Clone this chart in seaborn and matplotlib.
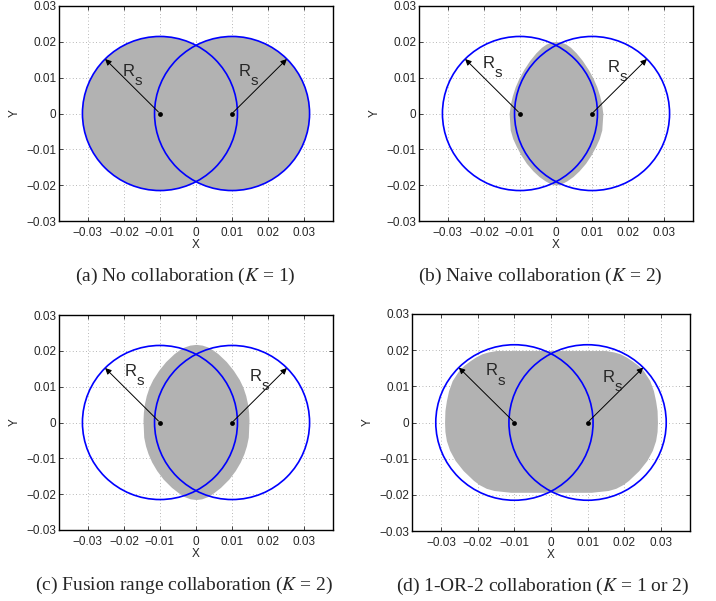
import numpy as np
import matplotlib
matplotlib.use("Agg")
import matplotlib.pyplot as plt
from matplotlib.patches import Circle
import seaborn as sns

# sensor positions and sensing radius
centers_x = [-0.01, 0.01]
centers_y = [0.0, 0.0]
radius = 0.0215
arrow_angles = [135, 45]

ticks = [-0.03, -0.02, -0.01, 0, 0.01, 0.02, 0.03]
tick_labels = ["\u22120.03", "\u22120.02", "\u22120.01", "0", "0.01", "0.02", "0.03"]

# detection region boundaries (y level, half width)
ys_b = [0.0201, 0.0199, 0.0194, 0.0185, 0.0169, 0.0148, 0.0122, 0.0098, 0.0075, 0.0050, 0.0029, 0.0,
        -0.0046, -0.0070, -0.0092, -0.0116, -0.0139, -0.0160, -0.0176, -0.0188, -0.0195, -0.0200]
hw_b = [0.0, 0.0014, 0.0027, 0.0040, 0.0056, 0.0073, 0.0090, 0.0103, 0.0113, 0.0121, 0.0126, 0.0130,
        0.0127, 0.0120, 0.0110, 0.0097, 0.0082, 0.0064, 0.0047, 0.0030, 0.0017, 0.0]

ys_c = [0.0218, 0.0216, 0.0211, 0.0203, 0.0192, 0.0170, 0.0145, 0.0120, 0.0099, 0.0075, 0.0052, 0.0028, 0.0006,
        -0.0041, -0.0065, -0.0087, -0.0110, -0.0134, -0.0158, -0.0181, -0.0196, -0.0207, -0.0213, -0.0215]
hw_c = [0.0, 0.0017, 0.0032, 0.0046, 0.0061, 0.0084, 0.0104, 0.0120, 0.0130, 0.0138, 0.0143, 0.0146, 0.0147,
        0.0145, 0.0140, 0.0133, 0.0123, 0.0109, 0.0091, 0.0068, 0.0049, 0.0032, 0.0016, 0.0]

ys_d = [0.0199, 0.0195, 0.0190, 0.0181, 0.0171, 0.0158, 0.0144, 0.0116, 0.0088, 0.0060, 0.0033, 0.0,
        -0.0025, -0.0050, -0.0077, -0.0105, -0.0133, -0.0160, -0.0172, -0.0182, -0.0188, -0.0193]
hw_d = [0.0150, 0.0172, 0.0189, 0.0206, 0.0221, 0.0238, 0.0252, 0.0270, 0.0280, 0.0286, 0.0290, 0.0291,
        0.0290, 0.0286, 0.0277, 0.0262, 0.0240, 0.0212, 0.0196, 0.0177, 0.0156, 0.0110]

captions = [
    "(a) No collaboration ($K$ = 1)",
    "(b) Naive collaboration ($K$ = 2)",
    "(c) Fusion range collaboration ($K$ = 2)",
    "(d) 1-OR-2 collaboration ($K$ = 1 or 2)",
]

sns.set_style("ticks")
plt.rcParams["font.family"] = ["Liberation Sans", "DejaVu Sans"]
plt.rcParams["mathtext.fontset"] = "stix"

GRAY = "#b2b2b2"

fig = plt.figure(figsize=(7.16, 6.01), dpi=100)
W, H = 716.0, 601.0
# axes boxes in pixels: left, top, right, bottom
boxes = [(59, 6, 333, 221), (419, 6, 693, 221), (59, 315, 333, 530), (412, 314, 690, 531)]
# R_s label positions (data coords) per panel
label_pos = [[(-0.0203, 0.0105), (0.0119, 0.0105)],
             [(-0.0204, 0.0127), (0.0143, 0.0115)],
             [(-0.0199, 0.0129), (0.0149, 0.0117)],
             [(-0.0178, 0.0130), (0.0142, 0.0111)]]
cap_x = [185, 540, 184, 543]
regions = [None, (ys_b, hw_b), (ys_c, hw_c), (ys_d, hw_d)]

for i, (l, t, r, b) in enumerate(boxes):
    ax = fig.add_axes([l / W, 1 - b / H, (r - l) / W, (b - t) / H])
    ax.set_axisbelow(True)
    ax.grid(True, linestyle=(0, (1, 3)), color="#a0a0a0", linewidth=0.6)

    # shaded detection region
    if regions[i] is None:
        for cx, cy in zip(centers_x, centers_y):
            ax.add_patch(Circle((cx, cy), radius, facecolor=GRAY, edgecolor="none", zorder=1))
    else:
        ys, hw = regions[i]
        hw = np.array(hw)
        ax.fill_betweenx(ys, -hw, hw, color=GRAY, linewidth=0, zorder=1)

    for cx, cy in zip(centers_x, centers_y):
        ax.add_patch(Circle((cx, cy), radius, facecolor="none", edgecolor="#0000ff", linewidth=1.2, zorder=2))

    for cx, cy, ang, (lx, ly) in zip(centers_x, centers_y, arrow_angles, label_pos[i]):
        tip = (cx + radius * np.cos(np.radians(ang)), cy + radius * np.sin(np.radians(ang)))
        ax.annotate("", xy=tip, xytext=(cx, cy),
                    arrowprops=dict(arrowstyle="-|>", color="black", lw=0.7,
                                    mutation_scale=9, shrinkA=1.5, shrinkB=0),
                    zorder=3)
        ax.text(lx, ly, "R", fontsize=12, ha="left", va="baseline", zorder=4)
        ax.annotate("s", xy=(lx, ly), xytext=(8.6, -6.5), textcoords="offset points",
                    fontsize=11, ha="left", va="baseline", zorder=4)

    sns.scatterplot(x=centers_x, y=centers_y, ax=ax, color="black", s=12, edgecolor="black",
                    linewidth=0, zorder=5, legend=False)

    ax.set_xlim(-0.038, 0.038)
    ax.set_ylim(-0.03, 0.03)
    ax.set_xticks(ticks)
    ax.set_xticklabels(tick_labels)
    ax.set_yticks(ticks)
    ax.set_yticklabels(tick_labels)
    ax.tick_params(direction="in", top=True, right=True, length=3, width=0.6,
                   labelsize=8.5, pad=2)
    ax.tick_params(axis="x", pad=4)
    for s in ax.spines.values():
        s.set_visible(True)
        s.set_linewidth(1.0)
        s.set_color("black")
    ax.set_xlabel("X", fontsize=8.5, labelpad=0)
    ax.set_ylabel("Y", fontsize=8.5, labelpad=4)

    fig.text(cap_x[i] / W, 1 - (b + 55) / H, captions[i], ha="center", va="center",
             fontsize=14, family=["Liberation Serif", "DejaVu Serif"])

fig.savefig("out.png", dpi=100)
